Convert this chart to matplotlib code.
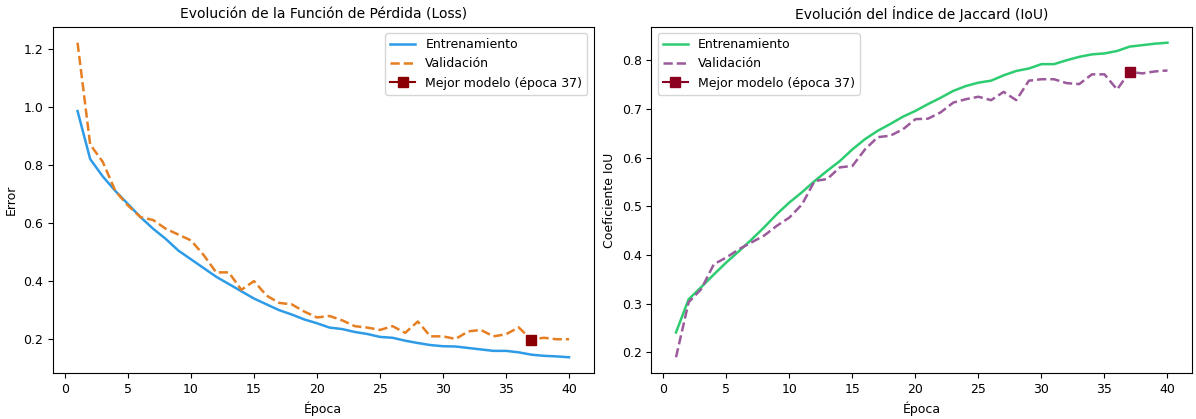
import numpy as np
import matplotlib
matplotlib.use("Agg")
import matplotlib.pyplot as plt

# ── datos ──────────────────────────────────────
epochs = np.arange(1, 41)

train_loss = [0.985, 0.82, 0.76, 0.71, 0.665, 0.62, 0.58, 0.545, 0.505, 0.475,
              0.445, 0.415, 0.39, 0.365, 0.34, 0.32, 0.30, 0.285, 0.268, 0.255,
              0.24, 0.235, 0.225, 0.218, 0.208, 0.205, 0.195, 0.187, 0.18, 0.176,
              0.175, 0.17, 0.165, 0.16, 0.16, 0.155, 0.147, 0.143, 0.141, 0.138]
val_loss = [1.22, 0.87, 0.81, 0.71, 0.66, 0.62, 0.61, 0.58, 0.56, 0.54,
            0.49, 0.43, 0.43, 0.37, 0.40, 0.35, 0.325, 0.32, 0.295, 0.275,
            0.28, 0.265, 0.245, 0.24, 0.232, 0.245, 0.222, 0.261, 0.21, 0.21,
            0.201, 0.227, 0.232, 0.21, 0.217, 0.241, 0.199, 0.205, 0.2, 0.2]

train_iou = [0.241, 0.309, 0.334, 0.36, 0.385, 0.408, 0.432, 0.457, 0.484, 0.508,
             0.529, 0.552, 0.573, 0.593, 0.617, 0.638, 0.655, 0.669, 0.684, 0.696,
             0.71, 0.723, 0.737, 0.747, 0.754, 0.758, 0.769, 0.778, 0.783, 0.792,
             0.792, 0.80, 0.807, 0.812, 0.814, 0.819, 0.828, 0.831, 0.834, 0.836]
val_iou = [0.19, 0.303, 0.33, 0.381, 0.395, 0.412, 0.426, 0.44, 0.46, 0.477,
           0.504, 0.552, 0.556, 0.58, 0.583, 0.617, 0.642, 0.645, 0.658, 0.679,
           0.68, 0.693, 0.713, 0.72, 0.725, 0.718, 0.735, 0.718, 0.758, 0.761,
           0.761, 0.753, 0.751, 0.771, 0.771, 0.74, 0.776, 0.773, 0.777, 0.779]

best_epoch = 37

# ── figura ─────────────────────────────────────
fig, (ax1, ax2) = plt.subplots(1, 2, figsize=(11.96, 4.19), dpi=100)
fig.subplots_adjust(left=0.0443, right=0.9967, top=0.9356, bottom=0.1098, wspace=0.107)

# Loss
ax1.plot(epochs, train_loss, color="#2E9BE6", lw=1.8, label="Entrenamiento")
ax1.plot(epochs, val_loss, color="#E67E22", lw=1.8, ls="--", label="Validación")
ax1.plot(best_epoch, val_loss[best_epoch - 1], "s-", color="#8B0000",
         markersize=7, label=f"Mejor modelo (época {best_epoch})")
ax1.set_title("Evolución de la Función de Pérdida (Loss)", fontsize=10)
ax1.set_xlabel("Época", fontsize=9)
ax1.set_ylabel("Error", fontsize=9)
ax1.legend(fontsize=9, loc="upper right")

# IoU
ax2.plot(epochs, train_iou, color="#2ECC71", lw=1.8, label="Entrenamiento")
ax2.plot(epochs, val_iou, color="#9B5A9B", lw=1.8, ls="--", label="Validación")
ax2.plot(best_epoch, val_iou[best_epoch - 1], "s-", color="#8B0020",
         markersize=7, label=f"Mejor modelo (época {best_epoch})")
ax2.set_title("Evolución del Índice de Jaccard (IoU)", fontsize=10)
ax2.set_xlabel("Época", fontsize=9)
ax2.set_ylabel("Coeficiente IoU", fontsize=9)
ax2.legend(fontsize=9, loc="upper left")

for ax in (ax1, ax2):
    ax.tick_params(labelsize=9)

fig.savefig("out.png", dpi=100)
